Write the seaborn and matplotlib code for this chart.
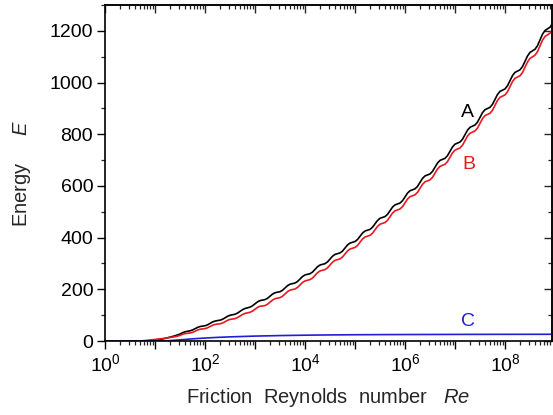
import numpy as np
import pandas as pd
import seaborn as sns
import matplotlib
matplotlib.use("Agg")
import matplotlib.pyplot as plt
from matplotlib.ticker import LogLocator, MultipleLocator, NullFormatter

# ---- data ----
# grid of log10(Re) used for curves A and B
log_re_ab = np.arange(0, 180) * 0.05

energy_a = [
    0, 0, 0, 0, 0, 0, 0, 0, 0, 0, 0, 0.1, 0.2, 0.3, 0.4, 0.5, 0.7, 1.0, 1.5, 2.2,
    3.0, 4.5, 6.0, 8.0, 10.0, 12.5, 15.0, 17.5, 20.0, 23.5,
    27.0, 32.0, 35.5, 37.5, 39.5, 42.5, 47.5, 52.5, 56.0, 57.5,
    59.0, 62.5, 68.0, 73.5, 77.0, 79.0, 80.5, 84.0, 89.5, 95.5,
    99.5, 101.5, 103.5, 108.0, 114.5, 121.0, 125.8, 128.5, 131.0, 136.2,
    143.9, 151.5, 156.3, 158.2, 160.1, 165.1, 173.1, 181.4, 186.7, 188.7,
    190.8, 196.2, 205.0, 214.0, 219.7, 222.0, 224.3, 230.2, 239.6, 249.4,
    255.5, 257.9, 260.4, 266.6, 276.9, 287.3, 294.0, 296.6, 299.2, 306.0,
    316.9, 328.0, 335.1, 337.9, 340.7, 347.9, 359.6, 371.5, 378.9, 382.0,
    384.9, 392.5, 405.0, 417.6, 425.5, 428.7, 431.8, 440.0, 453.1, 466.3,
    474.8, 478.1, 481.4, 490.0, 503.8, 517.9, 526.7, 530.2, 533.8, 542.7,
    557.3, 572.1, 581.3, 585.0, 588.7, 598.1, 613.5, 629.0, 638.7, 642.6,
    646.4, 656.3, 672.3, 688.5, 698.7, 702.8, 706.8, 717.1, 733.9, 750.8,
    761.5, 765.7, 769.9, 780.6, 798.1, 815.8, 826.8, 831.3, 835.7, 846.8,
    865.1, 883.5, 895.0, 899.6, 904.1, 915.8, 934.7, 953.8, 965.8, 970.5,
    975.2, 987.4, 1007.1, 1026.9, 1039.3, 1044.2, 1049.2, 1061.7, 1082.1, 1102.6,
    1116.5, 1122.6, 1128.7, 1142.7, 1164.8, 1187.0, 1201.4, 1207.7, 1213.9, 1228.4,
]

energy_b = [
    0, 0, 0, 0, 0, 0, 0, 0, 0, 0, 0, 0.1, 0.2, 0.3, 0.4, 0.8, 1.5, 2.5, 3.7, 5.0,
    6.0, 7.3, 8.3, 9.5, 10.5, 12.0, 13.5, 15.0, 16.5, 18.8,
    21.5, 25.8, 28.5, 29.7, 31.0, 33.3, 37.5, 42.2, 45.5, 46.7,
    48.0, 51.0, 56.0, 61.0, 64.0, 65.5, 66.5, 69.5, 74.5, 80.0,
    83.5, 85.0, 86.5, 90.5, 96.5, 102.5, 106.8, 109.0, 111.0, 115.7,
    122.9, 130.0, 134.3, 135.7, 137.1, 142.1, 150.1, 158.4, 163.7, 165.7,
    167.8, 173.2, 182.0, 191.0, 196.7, 199.0, 201.3, 207.2, 216.6, 226.4,
    232.5, 234.9, 237.4, 243.6, 253.9, 264.3, 271.0, 273.6, 276.2, 283.0,
    293.9, 305.0, 312.1, 314.9, 317.7, 324.9, 336.6, 348.5, 355.9, 359.0,
    361.9, 369.5, 382.0, 394.6, 402.5, 405.7, 408.8, 417.0, 430.1, 443.3,
    451.8, 455.1, 458.4, 467.0, 480.8, 494.9, 503.7, 507.2, 510.8, 519.7,
    534.3, 549.1, 558.3, 562.0, 565.7, 575.1, 590.5, 606.0, 615.7, 619.6,
    623.4, 633.3, 649.3, 665.5, 675.7, 679.8, 683.8, 694.1, 710.9, 727.8,
    738.5, 742.7, 746.9, 757.6, 775.1, 792.8, 803.8, 808.3, 812.7, 823.8,
    842.1, 860.5, 872.0, 876.6, 881.1, 892.8, 911.7, 930.8, 942.8, 947.5,
    952.2, 964.4, 984.1, 1003.9, 1016.3, 1021.2, 1026.2, 1038.7, 1059.1, 1079.6,
    1093.5, 1099.6, 1105.7, 1119.7, 1141.8, 1164.0, 1178.4, 1184.7, 1190.9, 1205.4,
]

log_re_c = [0, 1.2, 1.4, 1.6, 1.8, 2.0, 2.25, 2.5, 2.75, 3.0, 3.5, 4.0, 4.5,
            5.0, 5.5, 6.0, 7.0, 8.0, 8.95]
energy_c = [0, 0, 3, 6, 9, 11.5, 14, 16, 17.5, 19, 21, 22.5, 23.5,
            24.2, 24.7, 25, 25.5, 25.8, 26]

curve_labels = ["A", "B", "C"]
curve_colors = ["black", "#e8191f", "#1f1fd6"]

# ---- styling ----
sns.set_style("ticks")
plt.rcParams["font.family"] = ["Liberation Sans", "DejaVu Sans"]
plt.rcParams["mathtext.fontset"] = "custom"
plt.rcParams["mathtext.rm"] = "Liberation Sans"
plt.rcParams["mathtext.it"] = "Liberation Sans:italic"
plt.rcParams["mathtext.default"] = "rm"

fig = plt.figure(figsize=(5.53, 4.15), dpi=100)
ax = fig.add_axes([105 / 553, (415 - 341) / 415, (552 - 105) / 553, (341 - 5) / 415])

df_a = pd.DataFrame({"Re": 10 ** log_re_ab, "E": energy_a})
df_b = pd.DataFrame({"Re": 10 ** log_re_ab, "E": energy_b})
df_c = pd.DataFrame({"Re": 10 ** np.array(log_re_c), "E": energy_c})

for df, col in zip([df_a, df_b, df_c], curve_colors):
    sns.lineplot(data=df, x="Re", y="E", color=col, lw=1.2, ax=ax,
                 estimator=None, sort=False)

ax.set_xscale("log")
ax.set_xlim(1, 10 ** 8.94)
ax.set_ylim(0, 1300)

ax.set_xticks([10 ** k for k in range(0, 9)])
ax.set_xticklabels([r"$10^{%d}$" % k if k % 2 == 0 else "" for k in range(0, 9)])
ax.xaxis.set_minor_locator(LogLocator(base=10, subs=np.arange(2, 10), numticks=20))
ax.xaxis.set_minor_formatter(NullFormatter())
ax.yaxis.set_major_locator(MultipleLocator(200))
ax.yaxis.set_minor_locator(MultipleLocator(100))

ax.tick_params(which="major", direction="out", length=5.5, width=1.0,
               labelsize=14, colors="black", pad=3)
ax.tick_params(which="minor", direction="out", length=3, width=0.9)
for s in ax.spines.values():
    s.set_linewidth(1.2)
    s.set_color("black")
    s.set_visible(True)

# mirror ticks (inward) on top and right
top = ax.secondary_xaxis("top")
top.set_xticks([10 ** k for k in range(0, 9)])
top.xaxis.set_minor_locator(LogLocator(base=10, subs=np.arange(2, 10), numticks=20))
top.xaxis.set_minor_formatter(NullFormatter())
top.tick_params(which="major", direction="in", length=5.5, width=1.0, labeltop=False)
top.tick_params(which="minor", direction="in", length=3, width=0.9)
top.spines["top"].set_linewidth(1.2)
right = ax.secondary_yaxis("right")
right.yaxis.set_major_locator(MultipleLocator(200))
right.yaxis.set_minor_locator(MultipleLocator(100))
right.tick_params(which="major", direction="in", length=5.5, width=1.0, labelright=False)
right.tick_params(which="minor", direction="in", length=3, width=0.9)
right.spines["right"].set_linewidth(1.2)

ax.set_xlabel(r"Friction  Reynolds  number   $\mathit{Re}$", fontsize=14.5, labelpad=8)
ax.set_ylabel(r"Energy     $\mathit{E}$", fontsize=14.5, labelpad=12)

label_pos = [(10 ** 7.24, 883), (10 ** 7.28, 681), (10 ** 7.26, 74)]
for lab, col, (px, py) in zip(curve_labels, curve_colors, label_pos):
    ax.text(px, py, lab, color=col, fontsize=14, ha="center", va="center")

fig.savefig("out.png", dpi=100)
